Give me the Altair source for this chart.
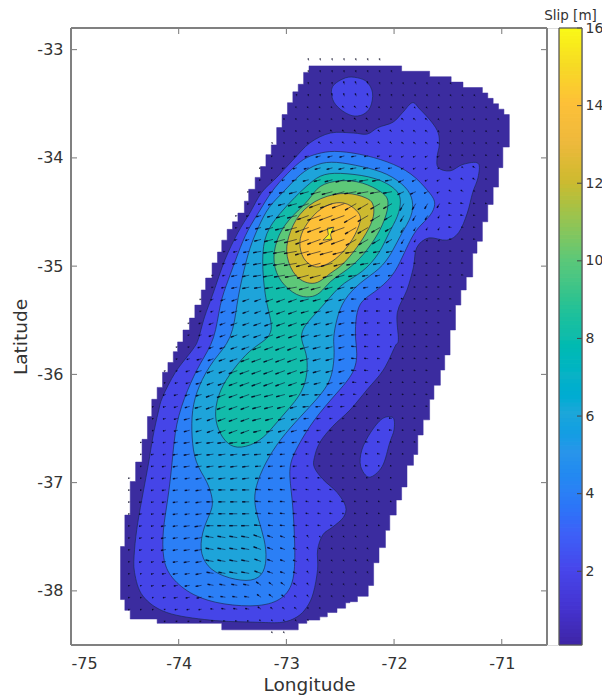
import math
import altair as alt
import pandas as pd

XTICKS = [-75, -74, -73, -72, -71]
YTICKS = [-38, -37, -36, -35, -34, -33]
CTICKS = [2, 4, 6, 8, 10, 12, 14, 16]
X_DOMAIN = [-75, -70.255]
Y_DOMAIN = [-38.5, -32.8]
C_DOMAIN = [0.1, 16]

BAND_COLORS = {"0": "#3b2c9f", "2": "#4545e8", "4": "#2b7ff6", "6": "#1ea4da",
               "8": "#12bcaa", "10": "#5dc878", "12": "#cdba30", "14": "#fdc038", "16": "#f6f020"}
BAR_VALUES = [0.1, 1, 2, 3, 4, 5, 6, 7, 8, 9, 10, 11, 12, 13, 14, 15, 16]
BAR_COLORS = ["#3e26a8", "#4433d0", "#4746eb", "#3c62f8", "#2b80f5", "#2a94ea", "#1ea6da", "#0db2c6",
              "#12bcaa", "#30c38e", "#5dc878", "#96c452", "#cdba30", "#eeb93c", "#fdc038", "#f6db24", "#f9fb15"]

# outer edge of the slip model: (lon, lat) steps, horizontal then vertical
OUTLINE = [(-72.79, -33.15), (-71.93, -33.20), (-71.67, -33.25), (-71.47, -33.30), (-71.36, -33.35), (-71.23, -33.35),
           (-71.18, -33.40), (-71.13, -33.45), (-71.08, -33.50), (-71.03, -33.55), (-70.98, -33.60), (-70.93, -33.90),
           (-70.99, -34.09), (-71.03, -34.27), (-71.08, -34.43), (-71.13, -34.59), (-71.18, -34.77), (-71.23, -34.88),
           (-71.27, -35.10), (-71.33, -35.22), (-71.38, -35.36), (-71.43, -35.59), (-71.48, -35.82), (-71.53, -35.96),
           (-71.57, -36.10), (-71.63, -36.23), (-71.67, -36.42), (-71.73, -36.56), (-71.78, -36.74), (-71.82, -36.84),
           (-71.88, -37.04), (-71.93, -37.16), (-71.98, -37.30), (-72.04, -37.44), (-72.08, -37.60), (-72.14, -37.74),
           (-72.19, -37.95), (-72.24, -38.05), (-72.34, -38.10), (-72.41, -38.11), (-72.45, -38.16), (-72.53, -38.20),
           (-72.62, -38.24), (-72.69, -38.27), (-72.81, -38.30), (-72.89, -38.36), (-73.60, -38.30), (-74.20, -38.26),
           (-74.45, -38.18), (-74.50, -38.08), (-74.54, -37.59), (-74.50, -37.30), (-74.45, -36.99), (-74.40, -36.81),
           (-74.34, -36.60), (-74.29, -36.39), (-74.25, -36.23), (-74.20, -36.12), (-74.15, -35.98), (-74.10, -35.89),
           (-74.05, -35.79), (-74.01, -35.70), (-73.96, -35.59), (-73.90, -35.48), (-73.85, -35.36), (-73.79, -35.22),
           (-73.75, -35.11), (-73.69, -34.97), (-73.64, -34.87), (-73.60, -34.76), (-73.55, -34.66), (-73.50, -34.59),
           (-73.45, -34.51), (-73.39, -34.40), (-73.35, -34.29), (-73.29, -34.18), (-73.24, -34.08), (-73.19, -33.97),
           (-73.14, -33.88), (-73.09, -33.72), (-73.04, -33.60), (-72.99, -33.49), (-72.94, -33.39), (-72.89, -33.32),
           (-72.84, -33.21), (-72.79, -33.15)]

LEVEL2_MAIN = [(-71.83, -33.49), (-71.76, -33.55), (-71.65, -33.67), (-71.59, -33.77), (-71.58, -33.88), (-71.60, -33.99),
               (-71.59, -34.09), (-71.48, -34.12), (-71.36, -34.06), (-71.22, -34.05), (-71.22, -34.18), (-71.27, -34.32),
               (-71.32, -34.51), (-71.40, -34.69), (-71.51, -34.76), (-71.68, -34.74), (-71.79, -34.83), (-71.82, -35.01),
               (-71.88, -35.22), (-71.97, -35.43), (-71.96, -35.68), (-71.99, -35.74), (-72.10, -35.96), (-72.25, -36.14),
               (-72.41, -36.33), (-72.57, -36.48), (-72.69, -36.63), (-72.74, -36.77), (-72.74, -36.86), (-72.66, -36.97),
               (-72.53, -37.09), (-72.45, -37.22), (-72.47, -37.32), (-72.57, -37.41), (-72.66, -37.48), (-72.71, -37.62),
               (-72.71, -37.80), (-72.75, -38.02), (-72.81, -38.15), (-72.90, -38.24), (-73.04, -38.29), (-73.27, -38.29),
               (-73.71, -38.27), (-74.11, -38.20), (-74.33, -38.05), (-74.41, -37.83), (-74.41, -37.62), (-74.38, -37.37),
               (-74.33, -37.09), (-74.28, -36.82), (-74.24, -36.58), (-74.19, -36.35), (-74.15, -36.21), (-74.03, -35.98),
               (-73.87, -35.77), (-73.82, -35.68), (-73.76, -35.47), (-73.68, -35.25), (-73.57, -34.94), (-73.45, -34.69),
               (-73.34, -34.51), (-73.23, -34.32), (-73.09, -34.18), (-72.94, -34.02), (-72.78, -33.86), (-72.59, -33.77),
               (-72.38, -33.77), (-72.25, -33.78), (-72.15, -33.72), (-72.01, -33.67), (-71.92, -33.58)]
LEVEL2_NORTH = [(-72.57, -33.34), (-72.45, -33.26), (-72.34, -33.26), (-72.25, -33.30), (-72.20, -33.40), (-72.22, -33.53),
                (-72.29, -33.60), (-72.39, -33.61), (-72.50, -33.55), (-72.57, -33.46)]
LEVEL2_SOUTH = [(-72.11, -36.41), (-72.01, -36.40), (-72.00, -36.51), (-72.04, -36.63), (-72.11, -36.85), (-72.23, -36.95),
                (-72.31, -36.85), (-72.30, -36.70), (-72.22, -36.54)]
LEVEL4 = [(-72.57, -33.93), (-72.32, -33.96), (-72.06, -34.03), (-71.83, -34.14), (-71.68, -34.31), (-71.60, -34.41),
          (-71.66, -34.54), (-71.78, -34.64), (-71.85, -34.76), (-71.92, -34.91), (-72.01, -35.10), (-72.19, -35.25),
          (-72.33, -35.33), (-72.36, -35.52), (-72.36, -35.68), (-72.34, -35.80), (-72.36, -35.98), (-72.53, -36.17),
          (-72.75, -36.42), (-72.90, -36.67), (-72.97, -36.82), (-72.97, -36.97), (-72.94, -37.19), (-72.92, -37.56),
          (-72.92, -37.92), (-73.03, -38.08), (-73.24, -38.15), (-73.59, -38.13), (-73.87, -38.05), (-74.08, -37.88),
          (-74.15, -37.71), (-74.15, -37.44), (-74.10, -37.16), (-74.06, -36.82), (-74.03, -36.45), (-73.92, -36.14),
          (-73.80, -35.89), (-73.66, -35.68), (-73.62, -35.34), (-73.54, -35.13), (-73.45, -34.88), (-73.36, -34.66),
          (-73.24, -34.48), (-73.15, -34.32), (-72.99, -34.14), (-72.84, -34.00), (-72.71, -33.96)]
LEVEL6 = [(-72.55, -34.03), (-72.29, -34.08), (-72.06, -34.14), (-71.88, -34.27), (-71.82, -34.39), (-71.83, -34.54),
          (-71.93, -34.69), (-72.02, -34.88), (-72.13, -35.03), (-72.32, -35.15), (-72.47, -35.31), (-72.53, -35.47),
          (-72.57, -35.68), (-72.55, -35.77), (-72.57, -36.02), (-72.66, -36.17), (-72.87, -36.39), (-73.06, -36.60),
          (-73.20, -36.82), (-73.29, -37.04), (-73.30, -37.19), (-73.26, -37.34), (-73.20, -37.53), (-73.18, -37.71),
          (-73.22, -37.87), (-73.36, -37.92), (-73.59, -37.87), (-73.74, -37.78), (-73.81, -37.62), (-73.77, -37.41),
          (-73.69, -37.25), (-73.68, -37.16), (-73.73, -36.99), (-73.85, -36.82), (-73.88, -36.58), (-73.88, -36.33),
          (-73.82, -36.11), (-73.68, -35.86), (-73.50, -35.68), (-73.46, -35.34), (-73.41, -35.10), (-73.34, -34.82),
          (-73.26, -34.64), (-73.17, -34.45), (-73.03, -34.32), (-72.87, -34.14), (-72.71, -34.05)]
LEVEL8 = [(-72.66, -34.14), (-72.45, -34.14), (-72.16, -34.18), (-71.97, -34.29), (-71.93, -34.39), (-71.96, -34.54),
          (-72.05, -34.69), (-72.13, -34.88), (-72.29, -35.06), (-72.47, -35.15), (-72.59, -35.28), (-72.69, -35.40),
          (-72.85, -35.56), (-72.87, -35.68), (-72.81, -35.80), (-72.80, -35.98), (-72.85, -36.17), (-72.99, -36.33),
          (-73.12, -36.48), (-73.24, -36.62), (-73.43, -36.69), (-73.55, -36.65), (-73.64, -36.51), (-73.67, -36.35),
          (-73.62, -36.14), (-73.50, -35.96), (-73.34, -35.77), (-73.18, -35.68), (-73.13, -35.59), (-73.15, -35.47),
          (-73.20, -35.28), (-73.23, -34.94), (-73.20, -34.69), (-73.06, -34.51), (-72.92, -34.36), (-72.78, -34.23)]
LEVEL10 = [(-72.50, -34.20), (-72.29, -34.22), (-72.10, -34.32), (-72.04, -34.39), (-72.08, -34.57), (-72.18, -34.76),
           (-72.32, -34.94), (-72.47, -35.06), (-72.59, -35.13), (-72.69, -35.26), (-72.78, -35.29), (-72.90, -35.28),
           (-73.06, -35.15), (-73.13, -34.97), (-73.10, -34.76), (-72.99, -34.57), (-72.78, -34.39), (-72.71, -34.25)]
LEVEL12 = [(-72.43, -34.31), (-72.25, -34.37), (-72.19, -34.41), (-72.18, -34.54), (-72.25, -34.69), (-72.38, -34.88),
           (-72.50, -35.01), (-72.59, -35.06), (-72.69, -35.15), (-72.78, -35.17), (-72.92, -35.11), (-73.01, -34.91),
           (-72.99, -34.73), (-72.89, -34.51), (-72.69, -34.36)]
LEVEL14 = [(-72.57, -34.41), (-72.43, -34.41), (-72.32, -34.51), (-72.30, -34.57), (-72.38, -34.76), (-72.50, -34.90),
           (-72.59, -34.97), (-72.69, -35.01), (-72.75, -35.01), (-72.85, -34.94), (-72.89, -34.78), (-72.84, -34.64),
           (-72.71, -34.48)]
LEVEL16 = [(-72.62, -34.65), (-72.56, -34.64), (-72.59, -34.71), (-72.58, -34.75), (-72.66, -34.76), (-72.61, -34.71)]

# arrow grid
GRID_LON0, GRID_LON_STEP = -72.793, 0.1105
GRID_LAT0, GRID_LAT_STEP = -33.10, 0.1102
# one entry per grid row: first column index, arrow length of each column
ARROW_ROWS = [
 (0, [2,2,2,2,2,2,2]),
 (0, [2,2,2,2,2,2,2,2]),
 (0, [2,2,2,3,3,3,2,2,2,2,2,2,2]),
 (-1, [2,2,2,3,3,3,3,2,2,2,2,2,2,2,2,2]),
 (-1, [2,2,2,2,3,3,3,2,2,2,2,2,2,2,2,2,2]),
 (-2, [2,2,2,2,2,3,3,3,2,2,3,3,3,2,2,2,2,2,2]),
 (-2, [2,2,2,2,3,3,3,3,3,3,3,3,3,2,2,2,2,2,2]),
 (-3, [2,2,2,2,3,3,3,3,3,3,3,3,3,3,3,2,2,2,2,2]),
 (-3, [2,2,3,4,5,5,5,5,4,3,3,3,3,3,3,2,2,2,2,2]),
 (-4, [2,2,3,4,5,6,6,6,6,5,5,4,3,3,3,2,2,2,3,2]),
 (-4, [2,2,3,5,6,7,8,9,9,9,8,7,6,4,3,3,3,3,3,2]),
 (-5, [2,3,4,6,8,9,10,11,12,12,11,10,9,7,6,4,3,3,3,2,2]),
 (-5, [2,3,5,7,9,11,12,13,13,13,12,11,10,8,7,6,5,3,3,2,2]),
 (-6, [2,3,5,6,9,10,12,14,14,14,14,12,11,9,7,6,5,3,3,3,2]),
 (-6, [2,3,6,8,10,12,14,14,14,14,13,12,10,8,6,4,3,3,3,2,2]),
 (-6, [3,4,7,9,11,13,14,14,14,14,12,11,9,7,5,3,2,2,2,2,2]),
 (-7, [2,4,6,8,10,12,13,14,14,13,12,11,9,7,6,4,2,2,2,2,2]),
 (-7, [3,5,7,8,10,12,13,13,13,12,11,10,8,7,5,3,2,2,2,2,2]),
 (-8, [2,3,6,7,8,10,11,12,12,11,10,9,8,6,5,4,2,2,2,2,2,2]),
 (-8, [2,4,6,7,7,8,9,10,10,10,8,7,6,5,4,3,3,2,2,2,2]),
 (-9, [2,3,5,6,7,7,8,9,9,9,8,8,6,5,4,4,3,3,2,2,2,2]),
 (-9, [2,3,5,6,7,7,8,9,9,8,7,7,6,5,4,4,3,2,2,2,2,2]),
 (-10, [2,3,5,6,7,7,8,9,9,9,8,7,7,6,5,4,3,3,2,2,2,2]),
 (-10, [2,3,5,6,7,7,8,9,9,9,8,7,7,6,5,4,3,2,2,2,2,2]),
 (-11, [2,2,4,5,6,7,8,9,9,10,10,9,8,7,6,5,4,3,2,2,2,2,2]),
 (-11, [2,3,5,6,7,8,9,10,10,10,10,9,8,7,6,5,4,3,2,2,2,2,2]),
 (-12, [2,2,4,6,7,7,9,10,10,10,10,10,9,8,7,6,5,4,2,2,2,2,2]),
 (-12, [2,3,4,6,7,8,9,10,10,10,10,9,8,7,6,5,4,3,2,2,2,2,2]),
 (-12, [3,4,5,6,8,9,9,10,10,9,9,8,7,6,5,4,3,2,2,2,2,2,2]),
 (-13, [2,3,4,5,7,8,9,9,9,9,9,8,7,6,5,5,4,3,2,2,2,2,2,2]),
 (-13, [2,3,4,6,6,7,8,9,9,9,8,7,6,5,4,3,2,2,2,3,3,2,2]),
 (-13, [2,3,4,6,6,7,8,9,9,8,7,7,6,5,4,3,2,2,2,3,3,2,2]),
 (-14, [2,2,3,4,6,6,7,8,8,8,7,6,6,5,4,3,2,2,2,3,3,2,2,2]),
 (-14, [2,3,3,5,6,7,7,7,7,7,7,6,5,4,3,2,2,2,2,3,3,2,2]),
 (-14, [2,3,4,5,6,6,7,7,7,7,6,5,5,4,2,2,2,2,2,3,2,2]),
 (-15, [2,2,3,4,5,5,6,6,7,7,7,6,5,5,4,3,3,2,2,2,2,2,2]),
 (-15, [2,2,3,4,5,5,6,6,7,7,7,6,5,5,4,3,3,3,2,2,2,2,2]),
 (-15, [2,3,3,4,5,5,6,7,7,7,7,6,5,5,4,3,3,3,3,2,2,2,2]),
 (-15, [2,3,3,4,5,5,6,7,7,8,7,6,5,5,4,3,3,3,2,2,2,2]),
 (-15, [2,3,3,5,5,6,7,7,8,8,8,7,5,5,4,3,3,2,2,2,2,2]),
 (-15, [2,3,3,5,5,6,7,8,8,8,8,8,6,5,4,3,2,2,2,2,2]),
 (-15, [2,3,3,5,5,6,7,8,8,8,8,8,6,5,4,3,2,2,2,2,2]),
 (-15, [2,3,3,4,5,6,6,8,8,8,8,7,6,5,4,3,2,2,2,2,2]),
 (-15, [2,2,3,4,5,5,6,7,7,8,8,7,6,5,4,3,2,2,2,2,2]),
 (-15, [2,2,3,4,4,5,6,6,6,6,6,6,5,5,4,3,2,2,2,2]),
 (-15, [2,2,2,3,4,4,5,5,5,5,5,5,5,4,3,3,2,2,2]),
 (-15, [2,2,2,2,3,3,3,3,4,4,4,4,3,3,3,2,2]),
 (-12, [2,2,2,2,2,2,2,2,2,2,2,2,2]),
 (-3, [2,2]),
]
# arrow direction in degrees from west (+ toward south, - toward north):
# one row per 4 grid rows, one value per 4 grid columns starting at column -16
RAKE_TABLE = [
 [-80, -80, -80, -80, -75, -70, -60, -50, -50],
 [-50, -50, -50, -50, -45, -45, -35, -40, -50],
 [10, 10, 10, 15, 15, 10, 25, -30, -30],
 [15, 15, 15, 15, 20, 30, 60, -10, -20],
 [10, 10, 12, 10, 15, 10, 0, -10, -10],
 [15, 15, 20, 20, 15, 0, -10, -10, -10],
 [15, 15, 20, 20, 15, -5, -10, -10, -10],
 [15, 15, 20, 15, 5, -5, -5, -5, -5],
 [10, 10, 8, 5, -5, -10, -10, -10, -10],
 [10, 8, 0, -5, -10, -15, -15, -15, -15],
 [15, 10, -10, -20, -55, -60, -60, -60, -60],
 [15, 10, -10, -35, -55, -60, -60, -60, -60],
]
DEG_PER_UNIT_LON, DEG_PER_UNIT_LAT = 0.00929, 0.00924

def polygon(points):
    return pd.DataFrame({"lon": [p[0] for p in points], "lat": [p[1] for p in points], "i": range(len(points))})

def stairs(points):
    out = [points[0]]
    for (a, b) in points[1:]:
        out.append((a, out[-1][1]))
        out.append((a, b))
    return out

rows = []
for j, (first, lengths) in enumerate(ARROW_ROWS):
    for c, length in enumerate(lengths):
        k = first + c
        rake = RAKE_TABLE[min(j // 4, len(RAKE_TABLE) - 1)][(k + 16) // 4]
        lon = GRID_LON0 + k * GRID_LON_STEP
        lat = GRID_LAT0 - j * GRID_LAT_STEP
        a = math.radians(rake)
        ux, uy = -math.cos(a), -math.sin(a)
        tip_x, tip_y = lon + ux * length * DEG_PER_UNIT_LON, lat + uy * length * DEG_PER_UNIT_LAT
        head = min(3.5, 0.45 * length)
        rows.append({"lon": lon, "lat": lat, "lon2": tip_x, "lat2": tip_y,
                     "hx": tip_x - ux * head * DEG_PER_UNIT_LON, "hy": tip_y - uy * head * DEG_PER_UNIT_LAT})
arrows = pd.DataFrame(rows)

axis_style = dict(grid=False, ticks=False, domain=False, labelFontSize=16, titleFontSize=18.5, titleFontWeight="normal",
                  labelColor="#333333", titleColor="#333333", labelFont="DejaVu Sans", titleFont="DejaVu Sans",
                  labelExpr="'' + datum.value")
x_enc = alt.X("lon:Q", scale=alt.Scale(domain=X_DOMAIN, nice=False, zero=False),
              axis=alt.Axis(values=XTICKS, title="Longitude", labelPadding=10, titlePadding=4, titleX=238, **axis_style))
y_enc = alt.Y("lat:Q", scale=alt.Scale(domain=Y_DOMAIN, nice=False, zero=False),
              axis=alt.Axis(values=YTICKS, title="Latitude", labelPadding=8, titlePadding=6, **axis_style))
order = alt.Order("i:Q")

layers = [alt.Chart(polygon(stairs(OUTLINE))).mark_line(
    fill=BAND_COLORS["0"], stroke=BAND_COLORS["0"], strokeWidth=0.5, interpolate="linear-closed"
).encode(x=x_enc, y=y_enc, order=order)]
for pts, key, curve in [(LEVEL2_MAIN, "2", "cardinal-closed"), (LEVEL2_NORTH, "2", "cardinal-closed"),
                        (LEVEL2_SOUTH, "2", "cardinal-closed"), (LEVEL4, "4", "basis-closed"), (LEVEL6, "6", "basis-closed"),
                        (LEVEL8, "8", "basis-closed"), (LEVEL10, "10", "basis-closed"), (LEVEL12, "12", "basis-closed"),
                        (LEVEL14, "14", "basis-closed"), (LEVEL16, "16", "linear-closed")]:
    layers.append(alt.Chart(polygon(pts)).mark_line(
        fill=BAND_COLORS[key], stroke="#1c2a50", strokeWidth=0.8, strokeOpacity=0.85, interpolate=curve
    ).encode(x="lon:Q", y="lat:Q", order=order))

layers.append(alt.Chart(arrows).mark_rule(color="#101030", strokeWidth=0.7, opacity=0.85).encode(
    x="lon:Q", y="lat:Q", x2="lon2:Q", y2="lat2:Q"))
layers.append(alt.Chart(arrows).mark_rule(color="#000018", strokeWidth=1.5, opacity=0.75).encode(
    x="hx:Q", y="hy:Q", x2="lon2:Q", y2="lat2:Q"))

tick_style = dict(color="#777777", strokeWidth=1)
frame_style = dict(color="#808080", strokeWidth=1.3)
xt = pd.DataFrame({"lon": XTICKS})
yt = pd.DataFrame({"lat": YTICKS})
layers += [
    alt.Chart(xt).mark_rule(**tick_style).encode(x="lon:Q", y=alt.value(617), y2=alt.value(611)),
    alt.Chart(xt).mark_rule(**tick_style).encode(x="lon:Q", y=alt.value(0), y2=alt.value(6)),
    alt.Chart(yt).mark_rule(**tick_style).encode(y="lat:Q", x=alt.value(0), x2=alt.value(6)),
    alt.Chart(yt).mark_rule(**tick_style).encode(y="lat:Q", x=alt.value(476), x2=alt.value(470)),
    alt.Chart(xt).mark_rule(**frame_style).encode(x=alt.value(0), x2=alt.value(476), y=alt.value(0)),
    alt.Chart(xt).mark_rule(**frame_style).encode(x=alt.value(0), x2=alt.value(476), y=alt.value(617)),
    alt.Chart(xt).mark_rule(**frame_style).encode(y=alt.value(0), y2=alt.value(617), x=alt.value(0)),
    alt.Chart(xt).mark_rule(**frame_style).encode(y=alt.value(0), y2=alt.value(617), x=alt.value(476)),
]
main = alt.layer(*layers)

bar_df = pd.DataFrame({"v": [C_DOMAIN[0] + n * (C_DOMAIN[1] - C_DOMAIN[0]) / 158 for n in range(158)]})
bar_df["v2"] = (bar_df["v"] + 0.12).clip(upper=C_DOMAIN[1])
bar_y = alt.Y("v:Q", scale=alt.Scale(domain=C_DOMAIN, nice=False, zero=False),
              axis=alt.Axis(values=CTICKS, orient="right", title=None, grid=False, ticks=False, domain=False,
                            labelFontSize=14, labelColor="#333333", labelPadding=3, labelFont="DejaVu Sans"))
bar = alt.Chart(bar_df).mark_rect().encode(
    x=alt.value(488), x2=alt.value(511), y=bar_y, y2="v2:Q",
    color=alt.Color("v:Q", scale=alt.Scale(domain=BAR_VALUES, range=BAR_COLORS), legend=None))
bar_ticks = alt.Chart(pd.DataFrame({"v": CTICKS})).mark_rule(color="#444444", strokeWidth=1).encode(
    y="v:Q", x=alt.value(511), x2=alt.value(506))
bar_frame_style = dict(color="#555555", strokeWidth=0.8)
frame_df = pd.DataFrame({"v": C_DOMAIN})
bar_frame = [
    alt.Chart(frame_df).mark_rule(**bar_frame_style).encode(y=alt.value(0), y2=alt.value(617), x=alt.value(488)),
    alt.Chart(frame_df).mark_rule(**bar_frame_style).encode(y=alt.value(0), y2=alt.value(617), x=alt.value(511)),
    alt.Chart(frame_df).mark_rule(**bar_frame_style).encode(x=alt.value(488), x2=alt.value(511), y=alt.value(0)),
    alt.Chart(frame_df).mark_rule(**bar_frame_style).encode(x=alt.value(488), x2=alt.value(511), y=alt.value(617)),
]
bar_title = alt.Chart(pd.DataFrame({"t": ["Slip [m]"]})).mark_text(
    fontSize=13.5, font="DejaVu Sans", color="#333333", align="center", baseline="alphabetic"
).encode(text="t:N", x=alt.value(499.5), y=alt.value(-8))
colorbar = alt.layer(bar, bar_ticks, *bar_frame, bar_title)

chart = alt.layer(main, colorbar).resolve_scale(y="independent", color="independent").properties(
    width=511, height=617,
    padding={"left": 63, "top": 20, "right": 20, "bottom": 50},
    autosize=alt.AutoSizeParams(type="none"),
).configure_view(stroke=None).configure(background="white")
chart.save("out.html", embed_options={"renderer": "svg", "actions": False})
